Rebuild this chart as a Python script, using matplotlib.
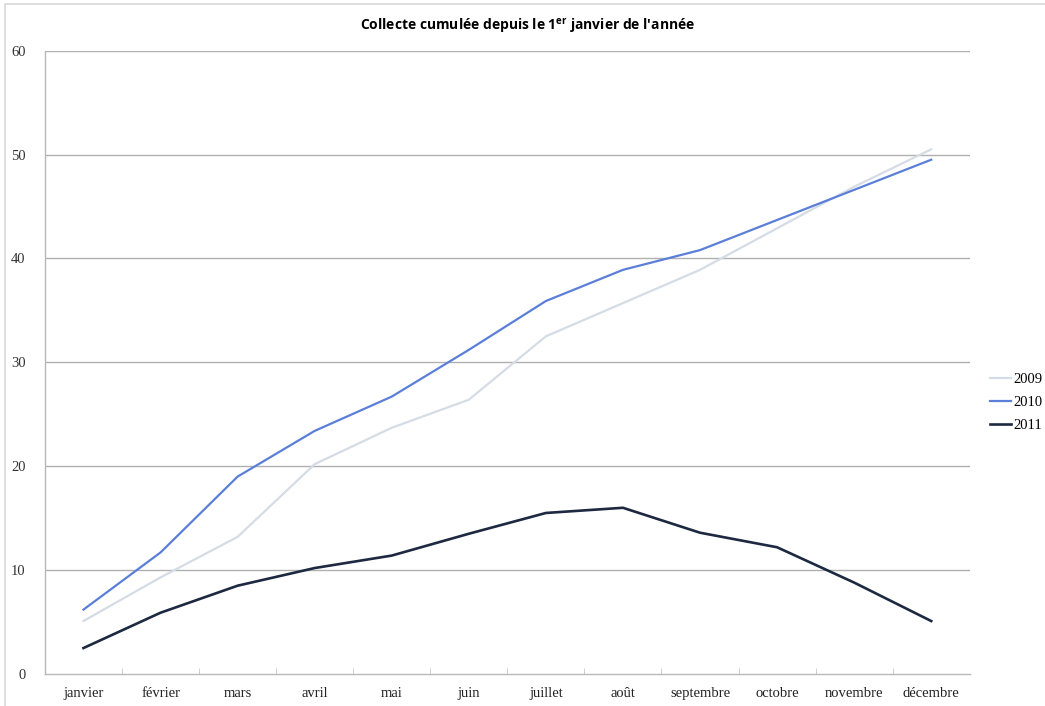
import numpy as np
import matplotlib
matplotlib.use("Agg")
from matplotlib import pyplot as plt
from matplotlib.lines import Line2D

# Data
months = ['janvier', 'février', 'mars', 'avril', 'mai', 'juin', 'juillet',
          'août', 'septembre', 'octobre', 'novembre', 'décembre']
y2009 = [5.1, 9.3, 13.2, 20.2, 23.7, 26.4, 32.5, 35.7, 38.9, 42.9, 46.9, 50.5]
y2010 = [6.2, 11.7, 19.0, 23.4, 26.7, 31.2, 35.9, 38.9, 40.8, 43.7, 46.6, 49.5]
y2011 = [2.5, 5.9, 8.5, 10.2, 11.4, 13.5, 15.5, 16.0, 13.6, 12.2, 8.8, 5.1]
series_names = ['2009', '2010', '2011']
yticks = [0, 10, 20, 30, 40, 50, 60]

colors = ['#d5dce6', '#5b7fd8', '#1d2940']
widths = [1.6, 1.6, 1.9]

plt.rcParams['mathtext.fontset'] = 'custom'
plt.rcParams['mathtext.bf'] = 'Open Sans:bold'
plt.rcParams['mathtext.rm'] = 'Open Sans'

fig = plt.figure(figsize=(10.45, 7.06), dpi=100)
ax = fig.add_axes([0.043, 0.0453, 0.885, 0.883])

x = np.arange(len(months))
for name, ys, c, w in zip(series_names, [y2009, y2010, y2011], colors, widths):
    ax.plot(x, ys, color=c, lw=w, label=name)

ax.set_xlim(-0.5, len(months) - 0.5)
ax.set_ylim(0, 60)
ax.set_yticks(yticks)
ax.set_yticklabels([str(t) for t in yticks], family='Liberation Serif',
                   fontsize=10.5, color='#333333')
ax.set_xticks(x)
ax.set_xticklabels(months, family='Liberation Serif', fontsize=10.5,
                   color='#222222')
ax.set_xticks(np.arange(0.5, len(months) - 0.5), minor=True)
ax.tick_params(axis='x', which='major', length=0, pad=9)
ax.tick_params(axis='x', which='minor', length=4, direction='in',
               color='#c8c8c8')
ax.tick_params(axis='y', length=0, pad=14)

for t in yticks[1:]:
    ax.axhline(t, color='#b0b0b0', lw=1.0, zorder=0)
for s in ['top', 'right']:
    ax.spines[s].set_visible(False)
for s in ['left', 'bottom']:
    ax.spines[s].set_color('#b8b8b8')
    ax.spines[s].set_linewidth(1.0)

fig.text(0.505, 0.962,
         "Collecte cumulée depuis le 1$^{\\mathbf{er}}$ janvier de l'année",
         ha='center', va='center', fontsize=10, fontweight='bold',
         family='Open Sans')

handles = [Line2D([], [], color=c, lw=w) for c, w in zip(colors, widths)]
leg = fig.legend(handles, series_names, loc='center left',
                 bbox_to_anchor=(0.935, 0.43), frameon=False,
                 prop={'family': 'Liberation Serif', 'size': 10.5},
                 handlelength=1.4, handletextpad=0.2, labelspacing=0.65)

# light frame around the chart area, as in the screenshot
fig.patches.append(plt.Rectangle((0.005, -0.01), 1.0, 1.005,
                                 transform=fig.transFigure, fill=False,
                                 edgecolor='#d8d8d8', lw=1.2))

fig.savefig('out.png', dpi=100)
